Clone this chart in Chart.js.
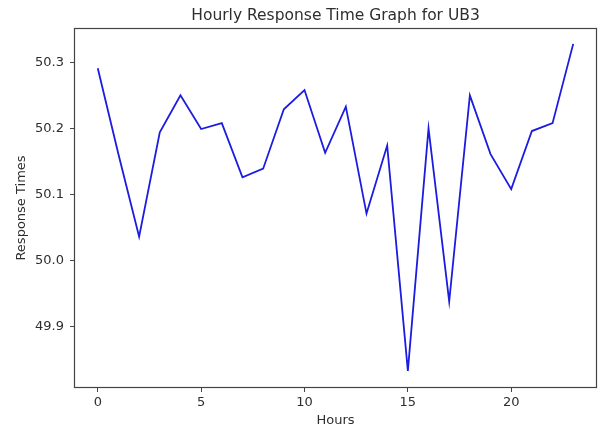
<!DOCTYPE html>
<html>
<head>
	<script src="https://cdn.jsdelivr.net/npm/chart.js@4.4.1/dist/chart.umd.min.js"></script>
	<title>Hourly Response Time Graph for UB3</title>
	<style>
		body { margin: 0; background: #fff; }
	</style>
</head>
<body>
	<canvas id="chart" width="598" height="428"></canvas>
<script type="text/javascript">
	const hours = [0, 1, 2, 3, 4, 5, 6, 7, 8, 9, 10, 11, 12, 13, 14, 15, 16, 17, 18, 19, 20, 21, 22, 23];
	const responseTimes = [50.291, 50.161, 50.036, 50.194, 50.250, 50.199, 50.208, 50.126, 50.139, 50.229, 50.258, 50.163, 50.233, 50.071, 50.174, 49.833, 50.200, 49.938, 50.250, 50.161, 50.108, 50.196, 50.208, 50.328];
	const xTicks = [0, 5, 10, 15, 20];
	const yTicks = [49.9, 50.0, 50.1, 50.2, 50.3];

	const font = 'DejaVu Sans';
	const ink = '#2e2e2e';

	// draws the four spines round the plot like matplotlib
	const frame = {
		id: 'frame',
		afterDraw(chart) {
			const a = chart.chartArea;
			const ctx = chart.ctx;
			ctx.save();
			ctx.strokeStyle = '#444';
			ctx.lineWidth = 1.2;
			ctx.strokeRect(a.left + 0.5, a.top + 0.5, a.right - a.left - 1, a.bottom - a.top - 1);
			ctx.restore();
		}
	};

	const ctx = document.getElementById('chart').getContext('2d');
	const myChart = new Chart(ctx, {
		type: 'line',
		data: {
			datasets: [{
				data: hours.map((h, i) => ({x: h, y: responseTimes[i]})),
				borderColor: '#1c1ce0',
				borderWidth: 1.8,
				pointRadius: 0,
				tension: 0,
				fill: false
			}]
		},
		options: {
			responsive: false,
			animation: false,
			layout: { padding: { left: 0, right: 1, top: 0, bottom: 0 } },
			plugins: {
				legend: { display: false },
				tooltip: { enabled: false },
				title: {
					display: true,
					text: 'Hourly Response Time Graph for UB3',
					fullSize: false,
					color: ink,
					font: { family: font, size: 15.5, weight: 'normal' },
					padding: { top: 7, bottom: 2.4 }
				}
			},
			scales: {
				x: {
					type: 'linear',
					min: -1.15,
					max: 24.15,
					afterBuildTicks: s => { s.ticks = xTicks.map(v => ({value: v})); },
					afterFit: s => { s.height = 40; },
					border: { display: false },
					grid: { drawOnChartArea: false, drawTicks: true, tickLength: 4, tickColor: '#444' },
					ticks: { color: ink, font: { family: font, size: 13 }, padding: 3, callback: v => String(v) },
					title: { display: true, text: 'Hours', color: ink, font: { family: font, size: 13 }, padding: 0 }
				},
				y: {
					min: 49.807,
					max: 50.352,
					afterBuildTicks: s => { s.ticks = yTicks.map(v => ({value: v})); },
					afterFit: s => { s.width = 74; },
					border: { display: false },
					grid: { drawOnChartArea: false, drawTicks: true, tickLength: 4, tickColor: '#444' },
					ticks: { color: ink, font: { family: font, size: 13 }, padding: 6, callback: v => v.toFixed(1) },
					title: { display: true, text: 'Response Times', color: ink, font: { family: font, size: 13 }, padding: { top: 14 } }
				}
			}
		},
		plugins: [frame]
	});
</script>
</body>
</html>
